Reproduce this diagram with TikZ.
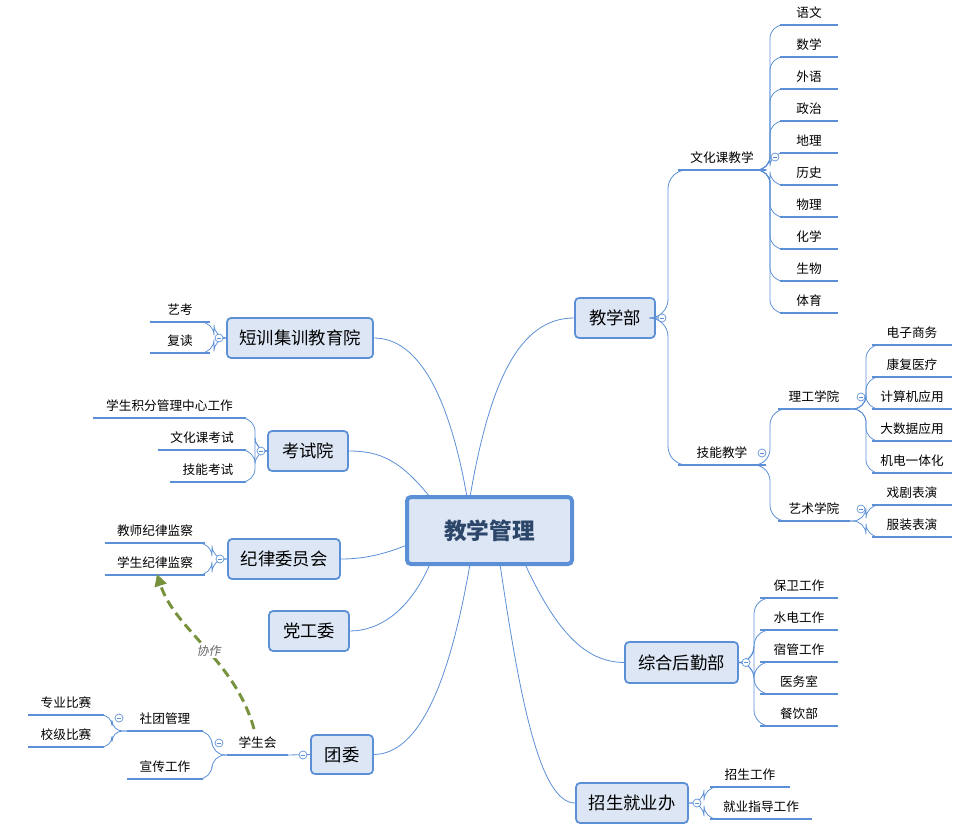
\documentclass[tikz,border=0pt]{standalone}
\usepackage{fontspec}
\setmainfont{Noto Sans CJK SC}
\newfontfamily\slantcjk[FakeSlant=0.2]{Noto Sans CJK SC}
\usetikzlibrary{arrows.meta}
\definecolor{ln}{HTML}{5B8FD6}
\definecolor{bx}{HTML}{DCE6F4}
\definecolor{gr}{HTML}{76923C}
\tikzset{
  box/.style={draw=ln,fill=bx,rounded corners=3pt,line width=1.3pt,font=\fontsize{13}{15}\selectfont,inner sep=0pt},
  lf/.style={font=\fontsize{9.5}{11}\selectfont,inner sep=1pt},
  ul/.style={draw=ln,line width=2pt},
  cn/.style={draw=ln,line width=0.6pt},
  tog/.style={draw=ln,fill=white,circle,minimum size=6pt,inner sep=0pt,line width=0.5pt,
     path picture={\draw[ln,line width=0.5pt] ([xshift=-1.8pt]path picture bounding box.center)--([xshift=1.8pt]path picture bounding box.center);}},
}
% \leaf{name}{x1}{x2}{y}{text}
\newcommand\leaf[5]{%
  \coordinate (#1-l) at (#2,#4); \coordinate (#1-r) at (#3,#4);
  \path[ul] (#1-l)--(#1-r);
  \node[lf] (#1) at ({(#2+#3)/2},#4-12) {#5};}
\begin{document}
\begin{tikzpicture}[x=0.75pt,y=-0.75pt]
\useasboundingbox (0,0) rectangle (977,830);
% center
\node[box,line width=3pt,font=\fontsize{17}{20}\selectfont\bfseries,text=ln!50!black,minimum width=123.75pt,minimum height=50.25pt] (c) at (489.5,530.5) {教学管理};
% boxes
\node[box,minimum width=60pt,minimum height=30pt] (jxb) at (615,318) {教学部};
\node[box,minimum width=84.75pt,minimum height=30.75pt] (hq) at (681.5,662.5) {综合后勤部};
\node[box,minimum width=84pt,minimum height=30pt] (zs) at (632,803) {招生就业办};
\node[box,minimum width=109.5pt,minimum height=30pt] (dx) at (300,338) {短训集训教育院};
\node[box,minimum width=60pt,minimum height=30pt] (ks) at (308,451) {考试院};
\node[box,minimum width=84pt,minimum height=30pt] (jl) at (284,559) {纪律委员会};
\node[box,minimum width=60pt,minimum height=30pt] (dg) at (309,631) {党工委};
\node[box,minimum width=46.5pt,minimum height=29.25pt] (tw) at (342,754.5) {团委};
% center connections
\draw[cn] (470,497) .. controls (490,380) and (520,318) .. (jxb.west);
\draw[cn] (525,564) .. controls (560,640) and (590,662) .. (hq.west);
\draw[cn] (500,564) .. controls (520,700) and (540,803) .. (zs.west);
\draw[cn] (467,497) .. controls (450,400) and (420,338) .. (dx.east);
\draw[cn] (430,497) .. controls (400,460) and (380,451) .. (ks.east);
\draw[cn] (407,545) .. controls (380,556) and (360,559) .. (jl.east);
\draw[cn] (430,564) .. controls (410,610) and (380,631) .. (dg.east);
\draw[cn] (470,564) .. controls (450,680) and (420,754) .. (tw.east);
% 教学部
\coordinate (p1) at (662,318);
\leaf{whk}{678}{766}{170}{文化课教学}
\leaf{jn}{678}{766}{465}{技能教学}
\draw[cn,rounded corners=14pt] (p1)--(668,318)|-(whk-l);
\draw[cn,rounded corners=14pt] (p1)--(668,318)|-(jn-l);
\node[tog] (t1) at (p1) {};
% subjects
\foreach \n/\t [count=\i from 0] in {a/语文,b/数学,c/外语,d/政治,e/地理,f/历史,g/物理,h/化学,i/生物,j/体育}{
  \leaf{s\n}{780}{838}{25+32*\i}{\t}
  \draw[cn,rounded corners=10pt] (whk-r)--(770,170)|-(s\n-l);
}
\node[tog] (t2) at (775,157) {};
% 技能教学
\leaf{lg}{778}{850}{409}{理工学院}
\leaf{ys}{778}{850}{521}{艺术学院}
\draw[cn,rounded corners=12pt] (jn-r)--(770,465)|-(lg-l);
\draw[cn,rounded corners=12pt] (jn-r)--(770,465)|-(ys-l);
\node[tog] (t3) at (762,453) {};
\foreach \n/\t [count=\i from 0] in {a/电子商务,b/康复医疗,c/计算机应用,d/大数据应用,e/机电一体化}{
  \leaf{l\n}{872}{952}{345+32*\i}{\t}
  \draw[cn,rounded corners=10pt] (lg-r)--(866,409)|-(l\n-l);
}
\node[tog] (t4) at (861,397) {};
\leaf{ya}{872}{952}{505}{戏剧表演}
\leaf{yb}{872}{952}{537}{服装表演}
\draw[cn,rounded corners=10pt] (ys-r)--(866,521)|-(ya-l);
\draw[cn,rounded corners=10pt] (ys-r)--(866,521)|-(yb-l);
\node[tog] (t5) at (861,509) {};
% 后勤
\foreach \n/\t [count=\i from 0] in {a/保卫工作,b/水电工作,c/宿管工作,d/医务室,e/餐饮部}{
  \leaf{h\n}{760}{838}{598+32*\i}{\t}
  \draw[cn,rounded corners=12pt] (hq.east)--(754,662.5)|-(h\n-l);
}
\node[tog] (t6) at (746,662.5) {};
% 招生
\leaf{za}{710}{790}{787}{招生工作}
\leaf{zb}{710}{812}{819}{就业指导工作}
\draw[cn,rounded corners=10pt] (zs.east)--(704,803)|-(za-l);
\draw[cn,rounded corners=10pt] (zs.east)--(704,803)|-(zb-l);
\node[tog] (t7) at (697,803) {};
% 短训
\leaf{dxa}{150}{210}{322}{艺考}
\leaf{dxb}{150}{210}{353}{复读}
\draw[cn,rounded corners=10pt] (dx.west)--(214,338)|-(dxa-r);
\draw[cn,rounded corners=10pt] (dx.west)--(214,338)|-(dxb-r);
\node[tog] (t8) at (219,338) {};
% 考试院
\leaf{ksa}{93}{246}{418}{学生积分管理中心工作}
\leaf{ksb}{158}{246}{450}{文化课考试}
\leaf{ksc}{170}{246}{482}{技能考试}
\foreach \n in {ksa,ksb,ksc}{\draw[cn,rounded corners=10pt] (ks.west)--(255,451)|-(\n-r);}
\node[tog] (t9) at (261,451) {};
% 纪律
\leaf{jla}{105}{205}{543}{教师纪律监察}
\leaf{jlb}{105}{205}{575}{学生纪律监察}
\foreach \n in {jla,jlb}{\draw[cn,rounded corners=10pt] (jl.west)--(212,559)|-(\n-r);}
\node[tog] (t10) at (220,559) {};
% 团委
\leaf{xsh}{227}{288}{755}{学生会}
\draw[cn] (tw.west)--(xsh-r);
\node[tog] (t11) at (303,755) {};
\leaf{st}{127}{203}{731}{社团管理}
\leaf{xc}{127}{203}{779}{宣传工作}
\foreach \n in {st,xc}{\draw[cn,rounded corners=10pt] (xsh-l)--(212,755)|-(\n-r);}
\node[tog] (t12) at (219,743) {};
\leaf{sta}{28}{104}{715}{专业比赛}
\leaf{stb}{28}{104}{747}{校级比赛}
\foreach \n in {sta,stb}{\draw[cn,rounded corners=8pt] (st-l)--(112,731)|-(\n-r);}
\node[tog] (t13) at (119,718) {};
% 协作
\draw[gr,line width=2.2pt,dash pattern=on 7pt off 4pt,-{Triangle[length=9pt,width=9pt]}] (254,729) .. controls (235,660) and (175,630) .. node[pos=0.47,fill=white,inner sep=1pt,text=gray!80!black,font=\fontsize{9}{10}\selectfont\slantcjk] (xz) {协作} (157,574);
\end{tikzpicture}
\end{document}
